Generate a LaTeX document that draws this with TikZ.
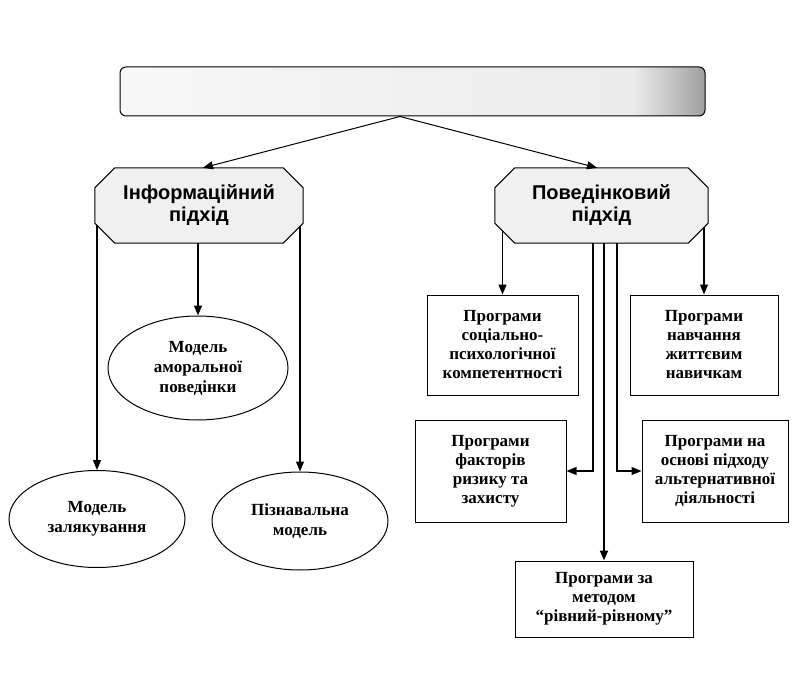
\documentclass[tikz,border=0pt]{standalone}
\usepackage{fontspec}
\setmainfont{Liberation Serif}
\setsansfont{Liberation Sans}
\usetikzlibrary{positioning}
\usetikzlibrary{calc}
\usetikzlibrary{shapes.geometric}
\usetikzlibrary{arrows.meta}
\usetikzlibrary{backgrounds}
\pgfdeclarehorizontalshading{bannershade}{100bp}{color(0bp)=(gray!6); color(25bp)=(gray!6); color(69bp)=(gray!16); color(75bp)=(gray!75); color(100bp)=(gray!75)}
\newcommand{\approachframe}[1]{\draw[line width=1pt, fill=gray!12]
    ([xshift=20pt]#1.north west) -- ([xshift=-20pt]#1.north east) -- ([yshift=-20pt]#1.north east)
    -- ([yshift=20pt]#1.south east) -- ([xshift=-20pt]#1.south east) -- ([xshift=20pt]#1.south west)
    -- ([yshift=20pt]#1.south west) -- ([yshift=-20pt]#1.north west) -- cycle;}
\tikzset{
    banner/.style = {rectangle, rounded corners=6pt, draw, line width=1pt, shading=bannershade, minimum width=585pt, minimum height=49pt},
    approach/.style = {rectangle, inner sep=0pt, align=center, font=\sffamily\bfseries\fontsize{20}{22}\selectfont, minimum height=75pt},
    prog/.style = {rectangle, draw, line width=1pt, fill=white, inner sep=2pt, align=center, font=\bfseries\fontsize{17}{19}\selectfont},
    model/.style = {ellipse, draw, line width=1pt, fill=white, inner sep=0pt, align=center, font=\bfseries\fontsize{17}{20}\selectfont},
    link/.style = {line width=1.2pt, -{Triangle[length=10pt,width=8pt]}}}
\begin{document}
\begin{tikzpicture}[x=1pt,y=-1pt]
        \useasboundingbox (0,0) rectangle (798,687);
        \path (412.5,91.5) node[banner] (top) {}
        (199,205.5) node[approach, minimum width=208pt] (info) {Інформаційний\\підхід}
        (601.5,205.5) node[approach, minimum width=213pt] (behav) {Поведінковий\\підхід}
        (198,368) node[model, minimum width=180pt, minimum height=104pt] (amor) {Модель\\аморальної\\поведінки}
        (97,519) node[model, minimum width=176pt, minimum height=97pt] (scare) {Модель\\залякування}
        (300,521) node[model, minimum width=176pt, minimum height=98pt] (cogn) {Пізнавальна\\модель}
        (502.5,345) node[prog, minimum width=151pt, minimum height=100pt] (soc) {Програми\\соціально-\\психологічної\\компетентності}
        (704,345) node[prog, minimum width=148pt, minimum height=100pt] (life) {Програми\\навчання\\життєвим\\навичкам}
        (490.5,471) node[prog, minimum width=151pt, minimum height=102pt] (risk) {Програми\\факторів\\ризику та\\захисту}
        (715,471) node[prog, minimum width=146pt, minimum height=102pt] (alt) {Програми на\\основі підходу\\альтернативної\\діяльності}
        (604,599) node[prog, minimum width=178pt, minimum height=76pt] (peer) {Програми за\\методом\\“рівний-рівному”};
        \coordinate (split) at ($(top.south)+(-12.5,0)$);
        \draw[link, line width=1pt] (split) -- ([xshift=4pt]info.north);
        \draw[link, line width=1pt] (split) -- ([xshift=-4.5pt]behav.north);
        \draw[link] (info.south -| amor.north) -- (amor.north);
        \begin{pgfonlayer}{background}
        \draw[link] (info.center -| scare.north) -- (scare.north);
        \draw[link] (info.center -| cogn.north) -- (cogn.north);
        \draw[link] (behav.center -| soc.north) -- (soc.north);
        \draw[link] (behav.center -| life.north) -- (life.north);
        \draw[link] ([xshift=-11pt]peer.north |- behav.center) |- (risk.east);
        \draw[link] ([xshift=13pt]peer.north |- behav.center) |- (alt.west);
        \draw[link, line width=2pt] (peer.north |- behav.center) -- (peer.north);
        \approachframe{info}
        \approachframe{behav}
        \end{pgfonlayer}
    \end{tikzpicture}
\end{document}
